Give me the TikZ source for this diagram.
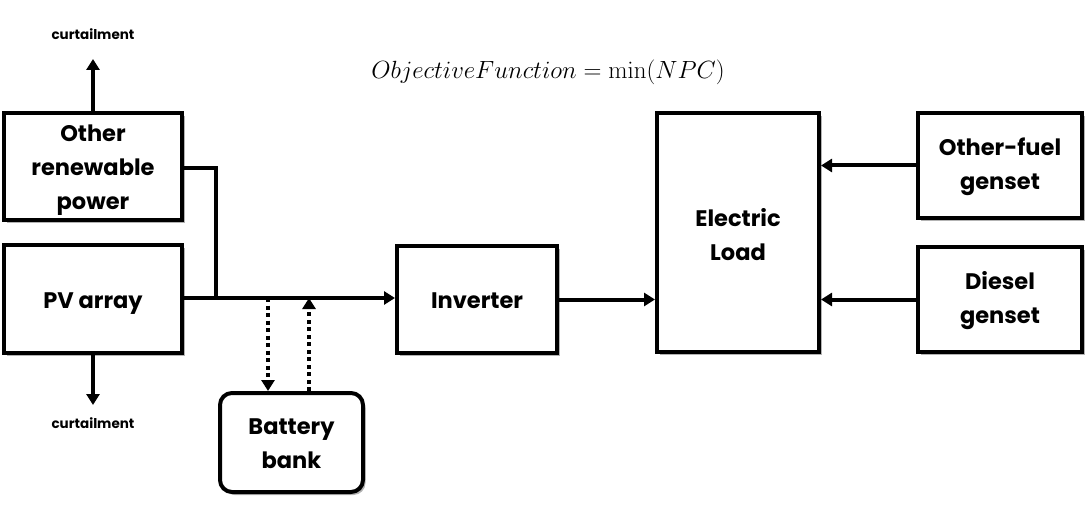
\documentclass[tikz,border=0pt]{standalone}
\usepackage[no-math]{fontspec}
\setmainfont{Poppins}
\usetikzlibrary{shadows,arrows.meta}
\begin{document}
\begin{tikzpicture}[x=1pt,y=-1pt,
  box/.style={draw,line width=4pt,fill=white,inner sep=0pt,
    drop shadow={shadow xshift=2.5pt,shadow yshift=-3pt,opacity=0.6,fill=black!50}},
  txt/.style={align=center,font=\bfseries\fontsize{22.5}{34}\selectfont},
  conn/.style={line width=4pt,-{Triangle[length=11pt,width=13pt]}},
  plain/.style={line width=4pt},
  dots/.style={line width=4pt,dash pattern=on 4pt off 3.5pt,-{Triangle[length=11pt,width=13pt]}},
  lbl/.style={font=\bfseries\fontsize{13.5}{15}\selectfont}]
\useasboundingbox (0,0) rectangle (1090,505);
\node[box,minimum width=178pt,minimum height=107pt,label={[txt,yshift=-4pt]center:Other\\renewable\\power}] (ren) at (93,166.5) {};
\node[box,minimum width=178pt,minimum height=107pt,label={[txt,yshift=-5pt]center:PV array}] (pv) at (93,299) {};
\node[box,minimum width=160pt,minimum height=107pt,label={[txt,yshift=-1pt]center:Inverter}] (inv) at (477,299.5) {};
\node[box,minimum width=162pt,minimum height=239pt,label={[txt,yshift=-2pt]center:Electric\\Load}] (load) at (738,232.5) {};
\node[box,minimum width=164pt,minimum height=105pt,label={[txt,yshift=-1pt]center:Other-fuel\\genset}] (ofg) at (1000,165.5) {};
\node[box,minimum width=164pt,minimum height=105pt,label={[txt,yshift=-1pt]center:Diesel\\genset}] (dg) at (1000,299.5) {};
\node[box,rounded corners=12pt,minimum width=143pt,minimum height=99pt,label={[txt,yshift=-1pt]center:Battery\\bank}] (bat) at (291.5,442.5) {};
\node[lbl] (ct) at (93,34) {curtailment};
\node[lbl] (cb) at (93,423) {curtailment};
\node[font=\fontsize{23}{26}\selectfont] (obj) at (548,72) {$ObjectiveFunction=\min(NPC)$};
\coordinate (j1) at (216,168);
\coordinate (j2) at (216,298);
\coordinate (bd) at (268,298);
\coordinate (bu) at (309,298);
\draw[conn] (ren.north) -- (ct.south |- 0,59);
\draw[conn] (pv.south) -- (cb.north |- 0,405);
\draw[plain] (ren.east |- j1) -- (j1) -- (j2);
\draw[conn] (pv.east |- j2) -- (inv.west |- j2);
\draw[dots] (bd) -- (bd |- bat.north);
\draw[dots] (bu |- bat.north) -- (bu);
\draw[conn] (inv.east) -- (load.west |- inv.east);
\draw[conn] (ofg.west) -- (load.east |- ofg.west);
\draw[conn] (dg.west) -- (load.east |- dg.west);
\end{tikzpicture}
\end{document}
